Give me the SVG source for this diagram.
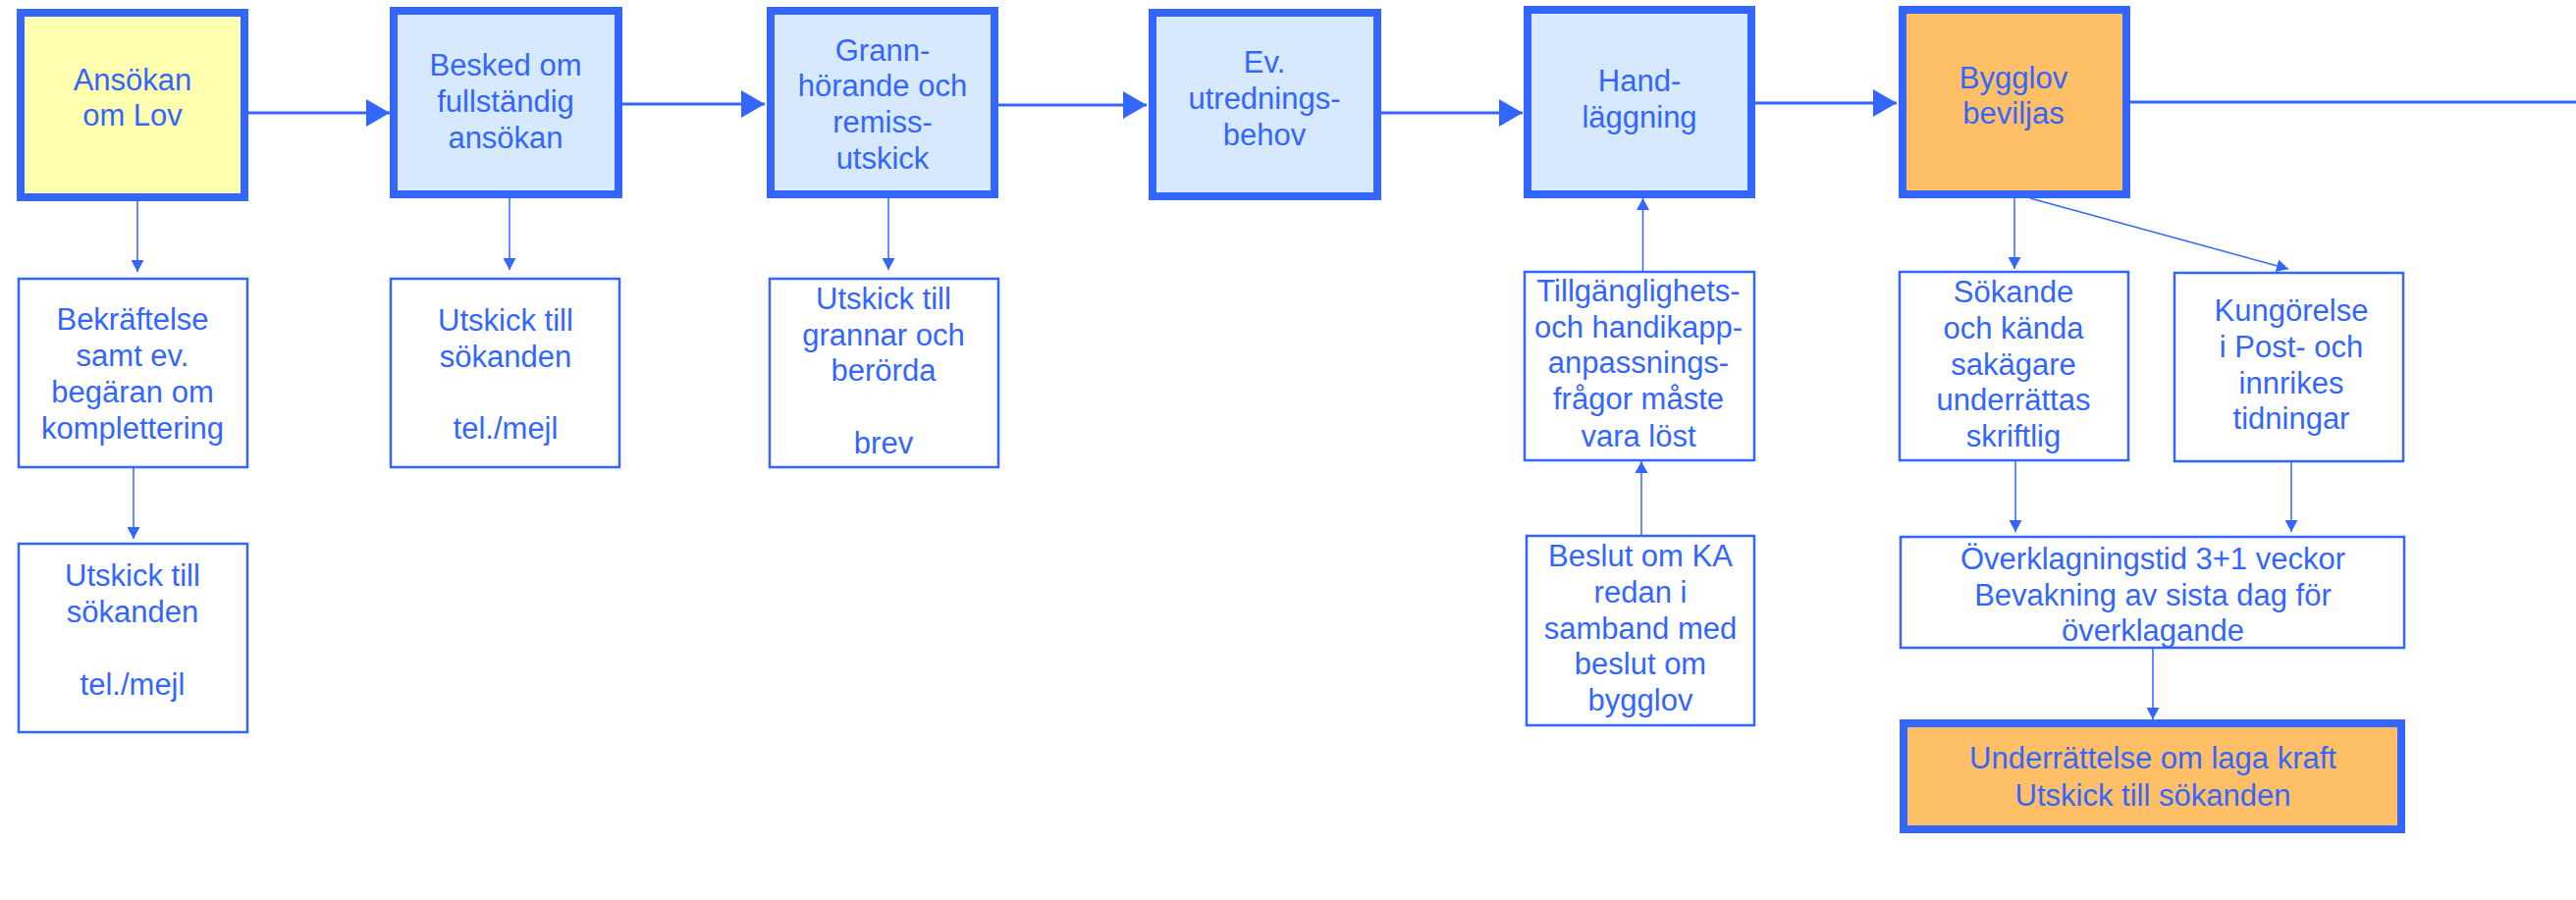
<svg xmlns="http://www.w3.org/2000/svg" width="2624" height="917" viewBox="0 0 2624 917">
<style>
.thick{stroke:#3366FF;stroke-width:8}
.thin{fill:#FFFFFF;stroke:#3366FF;stroke-width:2.5}
.yellow{fill:#FFFFB0}
.blue{fill:#D6E9FF}
.orange{fill:#FFBF66}
text{font-family:"Liberation Sans",Arial,sans-serif;font-size:31px;fill:#3366FF;text-anchor:middle}
.main{stroke:#3366FF;stroke-width:3;fill:none}
.sub{stroke:#3366FF;stroke-width:1.5;fill:none}
</style>
<defs>
<marker id="big" markerUnits="userSpaceOnUse" markerWidth="24" markerHeight="28" refX="24" refY="14" orient="auto">
<path d="M0,0 L24,14 L0,28 z" fill="#3366FF"/>
</marker>
<marker id="small" markerUnits="userSpaceOnUse" markerWidth="12" markerHeight="13" refX="12" refY="6.5" orient="auto">
<path d="M0,0 L12,6.5 L0,13 z" fill="#3366FF"/>
</marker>
</defs>
<rect width="2624" height="917" fill="#FFFFFF"/>
<g id="connectors">
<line class="main" x1="253" y1="115" x2="397" y2="115" marker-end="url(#big)"/>
<line class="main" x1="634" y1="106" x2="779" y2="106" marker-end="url(#big)"/>
<line class="main" x1="1017" y1="107" x2="1168" y2="107" marker-end="url(#big)"/>
<line class="main" x1="1407" y1="115" x2="1551" y2="115" marker-end="url(#big)"/>
<line class="main" x1="1788" y1="105" x2="1932" y2="105" marker-end="url(#big)"/>
<line class="main" x1="2170" y1="104" x2="2624" y2="104"/>
<line class="sub" x1="140" y1="205" x2="140" y2="277" marker-end="url(#small)"/>
<line class="sub" x1="519" y1="202" x2="519" y2="275" marker-end="url(#small)"/>
<line class="sub" x1="905" y1="202" x2="905" y2="275" marker-end="url(#small)"/>
<line class="sub" x1="136" y1="477" x2="136" y2="549" marker-end="url(#small)"/>
<line class="sub" x1="1673.5" y1="276" x2="1673.5" y2="202" marker-end="url(#small)"/>
<line class="sub" x1="1672" y1="545" x2="1672" y2="470" marker-end="url(#small)"/>
<line class="sub" x1="2052" y1="202" x2="2052" y2="274" marker-end="url(#small)"/>
<line class="sub" x1="2068" y1="202" x2="2331" y2="274" marker-end="url(#small)"/>
<line class="sub" x1="2053" y1="470" x2="2053" y2="542" marker-end="url(#small)"/>
<line class="sub" x1="2334" y1="471" x2="2334" y2="542" marker-end="url(#small)"/>
<line class="sub" x1="2193" y1="661" x2="2193" y2="733" marker-end="url(#small)"/>
</g>
<g id="ansokan">
<rect class="thick yellow" x="21" y="13" width="228" height="188"/>
<text><tspan x="135" y="92">Ansökan</tspan><tspan x="135" y="128">om Lov</tspan></text>
</g>
<g id="besked">
<rect class="thick blue" x="401" y="11" width="229" height="187"/>
<text><tspan x="515" y="77">Besked om</tspan><tspan x="515" y="114">fullständig</tspan><tspan x="515" y="151">ansökan</tspan></text>
</g>
<g id="grann">
<rect class="thick blue" x="785" y="11" width="228" height="187"/>
<text><tspan x="899" y="62">Grann-</tspan><tspan x="899" y="98">hörande och</tspan><tspan x="899" y="135">remiss-</tspan><tspan x="899" y="172">utskick</tspan></text>
</g>
<g id="ev">
<rect class="thick blue" x="1174" y="13" width="229" height="187"/>
<text><tspan x="1288" y="74">Ev.</tspan><tspan x="1288" y="111">utrednings-</tspan><tspan x="1288" y="148">behov</tspan></text>
</g>
<g id="hand">
<rect class="thick blue" x="1556" y="10" width="228" height="188"/>
<text><tspan x="1670" y="93">Hand-</tspan><tspan x="1670" y="130">läggning</tspan></text>
</g>
<g id="bygglov">
<rect class="thick orange" x="1938" y="10" width="228" height="188"/>
<text><tspan x="2051" y="90">Bygglov</tspan><tspan x="2051" y="126">beviljas</tspan></text>
</g>
<g id="bekraftelse">
<rect class="thin" x="19" y="284" width="233" height="192"/>
<text><tspan x="135" y="336">Bekräftelse</tspan><tspan x="135" y="373">samt ev.</tspan><tspan x="135" y="410">begäran om</tspan><tspan x="135" y="447">komplettering</tspan></text>
</g>
<g id="utskick1">
<rect class="thin" x="19" y="554" width="233" height="192"/>
<text><tspan x="135" y="597">Utskick till</tspan><tspan x="135" y="634">sökanden</tspan><tspan x="135" y="708">tel./mejl</tspan></text>
</g>
<g id="utskick2">
<rect class="thin" x="398" y="284" width="233" height="192"/>
<text><tspan x="515" y="337">Utskick till</tspan><tspan x="515" y="374">sökanden</tspan><tspan x="515" y="447">tel./mejl</tspan></text>
</g>
<g id="utskick3">
<rect class="thin" x="784" y="284" width="233" height="192"/>
<text><tspan x="900" y="315">Utskick till</tspan><tspan x="900" y="352">grannar och</tspan><tspan x="900" y="388">berörda</tspan><tspan x="900" y="462">brev</tspan></text>
</g>
<g id="tillganglighet">
<rect class="thin" x="1553" y="277" width="234" height="192"/>
<text><tspan x="1669" y="307">Tillgänglighets-</tspan><tspan x="1669" y="344">och handikapp-</tspan><tspan x="1669" y="380">anpassnings-</tspan><tspan x="1669" y="417">frågor måste</tspan><tspan x="1669" y="455">vara löst</tspan></text>
</g>
<g id="beslut">
<rect class="thin" x="1555" y="546" width="232" height="193"/>
<text><tspan x="1671" y="577">Beslut om KA</tspan><tspan x="1671" y="614">redan i</tspan><tspan x="1671" y="651">samband med</tspan><tspan x="1671" y="687">beslut om</tspan><tspan x="1671" y="724">bygglov</tspan></text>
</g>
<g id="sokande">
<rect class="thin" x="1935" y="277" width="233" height="192"/>
<text><tspan x="2051" y="308">Sökande</tspan><tspan x="2051" y="345">och kända</tspan><tspan x="2051" y="382">sakägare</tspan><tspan x="2051" y="418">underrättas</tspan><tspan x="2051" y="455">skriftlig</tspan></text>
</g>
<g id="kungorelse">
<rect class="thin" x="2215" y="278" width="233" height="192"/>
<text><tspan x="2334" y="327">Kungörelse</tspan><tspan x="2334" y="364">i Post- och</tspan><tspan x="2334" y="401">innrikes</tspan><tspan x="2334" y="437">tidningar</tspan></text>
</g>
<g id="overklagning">
<rect class="thin" x="1936" y="547" width="513" height="113"/>
<text><tspan x="2193" y="580">Överklagningstid 3+1 veckor</tspan><tspan x="2193" y="617">Bevakning av sista dag för</tspan><tspan x="2193" y="653">överklagande</tspan></text>
</g>
<g id="underrattelse">
<rect class="thick orange" x="1939" y="737" width="507" height="108"/>
<text><tspan x="2193" y="783">Underrättelse om laga kraft</tspan><tspan x="2193" y="821">Utskick till sökanden</tspan></text>
</g>
</svg>
